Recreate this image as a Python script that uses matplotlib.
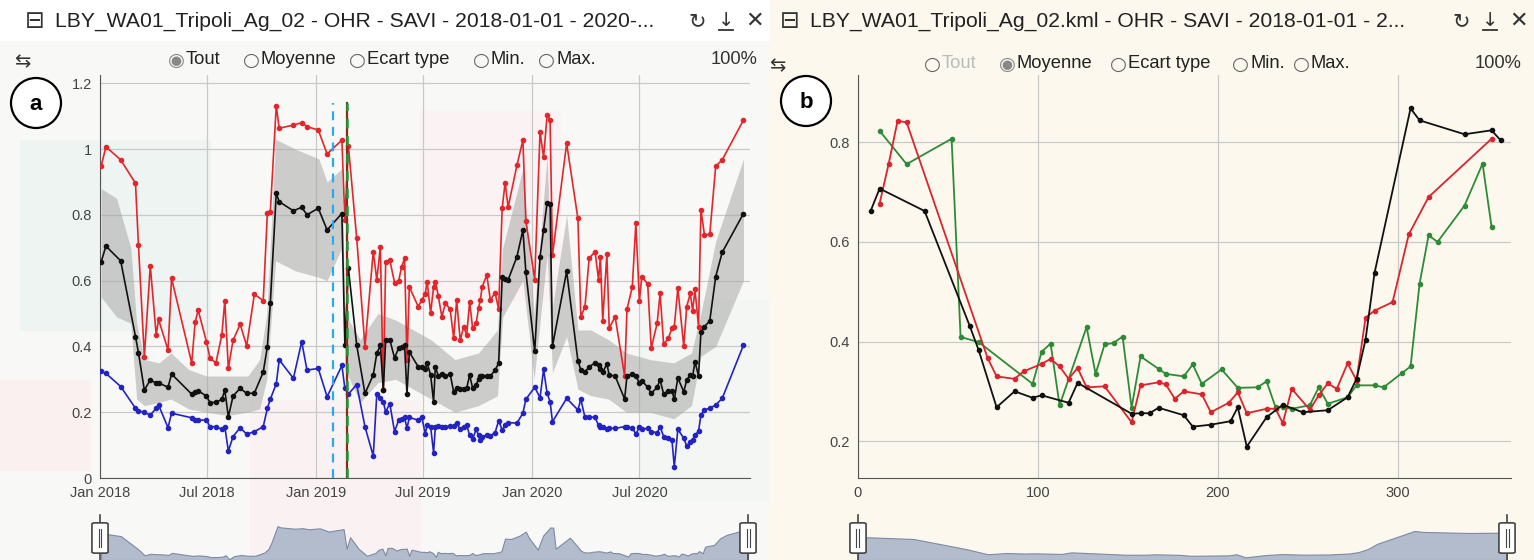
import numpy as np
import matplotlib
matplotlib.use("Agg")
import matplotlib.pyplot as plt
import matplotlib.dates as mdates
from matplotlib.patches import FancyBboxPatch, Ellipse, Rectangle
from matplotlib.ticker import FuncFormatter, FixedLocator

# ---- panel a : SAVI statistics over time (days since 2018-01-01) ----
days = [2, 10, 35, 60, 65, 75, 85, 95, 99, 115, 121, 155, 161, 166, 180, 186, 196, 206,
        211, 217, 225, 237, 248, 261, 276, 283, 288, 298, 303, 327, 341, 350, 369, 384,
        409, 414, 420, 434, 448, 462, 468, 474, 479, 483, 490, 498, 505, 510, 515, 519,
        523, 538, 544, 550, 553, 559, 564, 567, 572, 578, 584, 592, 598, 603, 609, 615,
        620, 625, 630, 636, 640, 643, 646, 654, 660, 668, 674, 680, 685, 690, 705, 715,
        720, 735, 744, 750, 756, 761, 765, 789, 808, 813, 820, 827, 837, 843, 846, 850,
        857, 861, 871, 887, 891, 900, 906, 912, 916, 926, 932, 942, 947, 953, 961, 967,
        971, 977, 987, 992, 998, 1002, 1006, 1012, 1016, 1022, 1031, 1041, 1052, 1088]

max_vals = [0.948, 1.007, 0.967, 0.896, 0.708, 0.369, 0.645, 0.435, 0.482, 0.389, 0.607,
            0.350, 0.475, 0.510, 0.414, 0.364, 0.350, 0.435, 0.539, 0.333, 0.419, 0.467,
            0.402, 0.559, 0.539, 0.806, 0.810, 1.131, 1.063, 1.073, 1.080, 1.068, 1.058,
            0.985, 1.027, 0.784, 1.009, 0.730, 0.399, 0.688, 0.602, 0.703, 0.267, 0.656,
            0.662, 0.594, 0.600, 0.642, 0.668, 0.359, 0.581, 0.521, 0.541, 0.560, 0.597,
            0.502, 0.580, 0.597, 0.553, 0.490, 0.531, 0.513, 0.425, 0.541, 0.419, 0.460,
            0.435, 0.536, 0.455, 0.470, 0.516, 0.540, 0.580, 0.617, 0.541, 0.563, 0.513,
            0.820, 0.898, 0.823, 0.951, 1.027, 0.782, 0.602, 1.052, 0.975, 1.103, 1.088,
            0.678, 1.017, 0.789, 0.490, 0.521, 0.668, 0.688, 0.602, 0.673, 0.478, 0.681,
            0.456, 0.490, 0.310, 0.513, 0.581, 0.774, 0.538, 0.612, 0.590, 0.395, 0.470,
            0.561, 0.406, 0.425, 0.455, 0.460, 0.577, 0.401, 0.521, 0.561, 0.509, 0.573,
            0.460, 0.815, 0.739, 0.741, 0.948, 0.967, 1.088]

mean_vals = [0.657, 0.705, 0.660, 0.430, 0.381, 0.267, 0.298, 0.288, 0.289, 0.276, 0.316,
             0.255, 0.260, 0.265, 0.249, 0.229, 0.230, 0.239, 0.267, 0.186, 0.249, 0.273,
             0.257, 0.258, 0.322, 0.399, 0.533, 0.865, 0.840, 0.812, 0.823, 0.800, 0.820,
             0.754, 0.804, 0.404, 0.637, 0.404, 0.257, 0.313, 0.379, 0.404, 0.267, 0.418,
             0.420, 0.365, 0.395, 0.399, 0.405, 0.255, 0.383, 0.338, 0.337, 0.330, 0.350,
             0.313, 0.232, 0.338, 0.310, 0.316, 0.310, 0.316, 0.262, 0.273, 0.270, 0.270,
             0.273, 0.313, 0.273, 0.284, 0.300, 0.310, 0.310, 0.310, 0.310, 0.328, 0.349,
             0.610, 0.605, 0.602, 0.673, 0.754, 0.627, 0.385, 0.673, 0.754, 0.837, 0.833,
             0.401, 0.628, 0.357, 0.328, 0.323, 0.338, 0.350, 0.342, 0.330, 0.322, 0.346,
             0.313, 0.310, 0.240, 0.310, 0.316, 0.310, 0.289, 0.296, 0.276, 0.257, 0.276,
             0.298, 0.255, 0.265, 0.265, 0.239, 0.304, 0.262, 0.298, 0.313, 0.310, 0.353,
             0.310, 0.443, 0.460, 0.478, 0.612, 0.686, 0.804]

min_vals = [0.325, 0.318, 0.278, 0.212, 0.204, 0.200, 0.191, 0.212, 0.222, 0.153, 0.197,
            0.183, 0.176, 0.176, 0.176, 0.156, 0.156, 0.148, 0.156, 0.082, 0.126, 0.153,
            0.133, 0.141, 0.156, 0.212, 0.240, 0.286, 0.359, 0.303, 0.414, 0.328, 0.333,
            0.247, 0.342, 0.273, 0.255, 0.284, 0.156, 0.067, 0.255, 0.242, 0.232, 0.201,
            0.226, 0.141, 0.176, 0.178, 0.184, 0.151, 0.184, 0.176, 0.186, 0.134, 0.160,
            0.156, 0.077, 0.156, 0.158, 0.156, 0.156, 0.158, 0.158, 0.168, 0.148, 0.155,
            0.160, 0.130, 0.118, 0.148, 0.130, 0.116, 0.125, 0.131, 0.128, 0.138, 0.174,
            0.146, 0.160, 0.168, 0.167, 0.197, 0.239, 0.276, 0.244, 0.330, 0.257, 0.232,
            0.171, 0.242, 0.207, 0.239, 0.184, 0.186, 0.184, 0.160, 0.156, 0.156, 0.148,
            0.151, 0.151, 0.156, 0.156, 0.151, 0.134, 0.154, 0.148, 0.151, 0.141, 0.138,
            0.156, 0.126, 0.121, 0.116, 0.034, 0.148, 0.121, 0.097, 0.110, 0.116, 0.130,
            0.143, 0.191, 0.207, 0.212, 0.222, 0.242, 0.404]

# standard deviation envelope (lower / upper edge)
band_days = [2, 28, 52, 62, 75, 100, 120, 150, 180, 215, 250, 270, 282, 297, 330, 370,
             384, 409, 414, 440, 470, 500, 530, 560, 600, 640, 672, 681, 715, 734, 756,
             765, 789, 808, 830, 860, 890, 930, 970, 1000, 1016, 1041, 1088]
band_hi = [0.88, 0.85, 0.70, 0.47, 0.36, 0.35, 0.38, 0.33, 0.31, 0.31, 0.31, 0.36, 0.50,
           1.03, 1.00, 0.97, 0.90, 0.94, 0.50, 0.42, 0.50, 0.48, 0.45, 0.42, 0.36, 0.38,
           0.45, 0.70, 0.94, 0.50, 0.98, 0.52, 0.80, 0.45, 0.45, 0.42, 0.38, 0.36, 0.35,
           0.38, 0.50, 0.72, 0.97]
band_lo = [0.55, 0.49, 0.47, 0.24, 0.22, 0.23, 0.24, 0.21, 0.20, 0.19, 0.20, 0.21, 0.30,
           0.66, 0.63, 0.61, 0.60, 0.70, 0.33, 0.23, 0.29, 0.30, 0.27, 0.24, 0.20, 0.22,
           0.25, 0.49, 0.60, 0.30, 0.68, 0.32, 0.43, 0.27, 0.25, 0.24, 0.20, 0.20, 0.18,
           0.22, 0.37, 0.40, 0.60]

event_days = [394, 417]   # dashed markers (blue, green)
tick_dates = ["2018-01-01", "2018-07-01", "2019-01-01", "2019-07-01", "2020-01-01",
              "2020-07-01"]

# ---- panel b : mean SAVI per day of year, one line per year ----
doy_2018 = [7, 12, 37, 62, 67, 77, 87, 97, 102, 117, 122, 152, 157, 162, 167, 181, 186,
            196, 207, 211, 216, 227, 236, 247, 261, 272, 277, 282, 287, 307, 312, 337,
            352, 357]
savi_2018 = [0.662, 0.707, 0.662, 0.432, 0.383, 0.268, 0.300, 0.287, 0.292, 0.277, 0.317,
             0.255, 0.256, 0.256, 0.267, 0.252, 0.229, 0.233, 0.240, 0.268, 0.189, 0.248,
             0.273, 0.258, 0.262, 0.288, 0.325, 0.404, 0.538, 0.868, 0.844, 0.816, 0.824,
             0.804]

doy_2019 = [12, 17, 22, 27, 72, 77, 87, 92, 102, 107, 112, 117, 122, 127, 137, 152, 157,
            167, 171, 176, 181, 191, 196, 206, 211, 216, 227, 232, 236, 241, 251, 256,
            261, 266, 272, 277, 282, 287, 297, 306, 317, 352]
savi_2019 = [0.677, 0.756, 0.843, 0.840, 0.367, 0.330, 0.325, 0.340, 0.355, 0.365, 0.350,
             0.325, 0.347, 0.308, 0.310, 0.238, 0.312, 0.318, 0.314, 0.285, 0.300, 0.294,
             0.258, 0.277, 0.298, 0.256, 0.265, 0.265, 0.236, 0.305, 0.263, 0.292, 0.316,
             0.305, 0.356, 0.322, 0.448, 0.462, 0.479, 0.615, 0.690, 0.807]

doy_2020 = [12, 27, 52, 57, 67, 97, 102, 107, 112, 127, 132, 137, 142, 147, 152, 157, 167,
            171, 181, 186, 191, 202, 211, 222, 227, 232, 236, 241, 251, 256, 261, 272,
            277, 287, 292, 302, 307, 312, 317, 322, 337, 347, 352]
savi_2020 = [0.823, 0.756, 0.807, 0.409, 0.399, 0.315, 0.379, 0.396, 0.272, 0.429, 0.335,
             0.394, 0.397, 0.410, 0.267, 0.370, 0.345, 0.335, 0.330, 0.354, 0.315, 0.344,
             0.307, 0.308, 0.320, 0.268, 0.268, 0.265, 0.272, 0.308, 0.275, 0.288, 0.312,
             0.312, 0.308, 0.336, 0.350, 0.516, 0.613, 0.600, 0.673, 0.757, 0.630]

W, H = 1534, 560
fig = plt.figure(figsize=(W / 100, H / 100), dpi=100)
plt.rcParams["font.family"] = ["Liberation Sans", "DejaVu Sans"]


def fx(x):
    return x / W


def fy(y):
    return 1 - y / H


def box(x0, y0, x1, y1):
    return [fx(x0), fy(y1), fx(x1) - fx(x0), fy(y0) - fy(y1)]


def rect(x0, y0, x1, y1, c, z):
    fig.patches.append(Rectangle((fx(x0), fy(y1)), fx(x1) - fx(x0), fy(y0) - fy(y1),
                                 transform=fig.transFigure, color=c, zorder=z))


# backgrounds
rect(0, 0, 769, 560, "#F8F9F6", -10)
rect(769, 0, W, 560, "#FCF8EE", -10)
rect(0, 0, 769, 40, "white", -9)
# faint imagery patches behind panel a
for x0, y0, x1, y1, c in [(20, 140, 210, 330, "#EEF4F2"), (250, 400, 420, 560, "#FAF2F2"),
                          (420, 110, 560, 300, "#FBF3F3"), (640, 300, 768, 500, "#F3F6F3"),
                          (0, 380, 90, 470, "#FAF0F0")]:
    rect(x0, y0, x1, y1, c, -8)

grid_kw = dict(color="#C9C9C9", linewidth=0.9)
tick_kw = dict(labelsize=10.5, labelcolor="#444444", length=0, pad=6)

# ---------------- panel a ----------------
base = np.datetime64("2018-01-01")
dates = base + np.array(days).astype("timedelta64[D]")
bdates = base + np.array(band_days).astype("timedelta64[D]")

ax = fig.add_axes(box(100, 75, 750, 478))
ax.set_facecolor("none")
ax.fill_between(bdates, band_lo, band_hi, color="#A8A8A8", alpha=0.55, lw=0, zorder=1)
line_kw = dict(lw=1.2, marker="o", ms=3, zorder=3)
ax.plot(dates, max_vals, color="#E3262B", **line_kw)
ax.plot(dates, mean_vals, color="#111111", **line_kw)
ax.plot(dates, min_vals, color="#2323C4", **line_kw)

ev = base + np.array(event_days).astype("timedelta64[D]")
ax.plot([ev[0], ev[0]], [0, 1.14], color="#2AA8F2", lw=1.6, ls=(0, (4, 3)), zorder=4)
ax.plot([ev[1], ev[1]], [0, 1.14], color="#8A2A18", lw=1.6, zorder=4)
ax.plot([ev[1], ev[1]], [0, 1.14], color="#1E9A3A", lw=1.8, ls=(0, (4, 3)), zorder=5)

ax.set_xlim(base, base + np.timedelta64(1099, "D"))
ax.set_ylim(0, 1.225)
ax.set_yticks([0, 0.2, 0.4, 0.6, 0.8, 1.0, 1.2])
ax.yaxis.set_major_formatter(FuncFormatter(lambda v, p: f"{v:g}"))
ax.xaxis.set_major_locator(FixedLocator(mdates.date2num(np.array(tick_dates,
                                                                 dtype="datetime64[D]"))))
ax.xaxis.set_major_formatter(mdates.DateFormatter("%b %Y"))
ax.grid(True, **grid_kw)
ax.set_axisbelow(True)
ax.tick_params(**tick_kw)
for s in ["top", "right"]:
    ax.spines[s].set_visible(False)
for s in ["left", "bottom"]:
    ax.spines[s].set_color("#555555")

# ---------------- panel b ----------------
bx = fig.add_axes(box(858, 75, 1511, 478))
bx.set_facecolor("none")
lk = dict(lw=1.3, marker="o", ms=3, zorder=3)
bx.plot(doy_2020, savi_2020, color="#2E8B35", **lk)
bx.plot(doy_2019, savi_2019, color="#D9252E", **lk)
bx.plot(doy_2018, savi_2018, color="#111111", **lk)
bx.set_xlim(0, 362.8)
bx.set_ylim(0.126, 0.935)
bx.set_xticks([0, 100, 200, 300])
bx.set_yticks([0.2, 0.4, 0.6, 0.8])
bx.yaxis.set_major_formatter(FuncFormatter(lambda v, p: f"{v:g}"))
bx.grid(True, **grid_kw)
bx.set_axisbelow(True)
bx.tick_params(**tick_kw)
for s in ["top", "right"]:
    bx.spines[s].set_visible(False)
for s in ["left", "bottom"]:
    bx.spines[s].set_color("#555555")

# ---------------- range selectors ----------------
for (x0, x1, xs, ys, xlim, ylim) in [
        (100, 748, dates, mean_vals, (base, base + np.timedelta64(1088, "D")), (0.17, 0.95)),
        (858, 1507, doy_2018, savi_2018, (7, 357), (0.12, 1.1))]:
    rx = fig.add_axes(box(x0, 522, x1, 560))
    rx.fill_between(xs, ylim[0], ys, color="#B3BCCD", edgecolor="#7D8AA3", lw=0.8)
    rx.set_xlim(*xlim)
    rx.set_ylim(*ylim)
    rx.axis("off")
    for hx in (x0, x1):
        fig.lines.append(plt.Line2D([fx(hx), fx(hx)], [fy(560), fy(515)],
                                    transform=fig.transFigure, color="#444444", lw=1.2))
        fig.patches.append(FancyBboxPatch((fx(hx - 5), fy(552)), fx(10), fy(524) - fy(552),
                                          boxstyle="round,pad=0.002",
                                          transform=fig.transFigure, fc="white",
                                          ec="#444444", lw=1.2, zorder=5))
        for dx in (-1.5, 1.5):
            fig.lines.append(plt.Line2D([fx(hx + dx), fx(hx + dx)], [fy(547), fy(529)],
                                        transform=fig.transFigure, color="#444444",
                                        lw=0.8, zorder=6))

# ---------------- headers ----------------
sym = ["DejaVu Sans"]


def header(x_icon, title, x_right, radio, x_pct, y_row):
    fig.text(fx(x_icon), fy(21), "⊟", family=sym, fontsize=17, va="center",
             ha="center", color="#333333")
    fig.text(fx(x_icon + 20), fy(21), title, fontsize=15.2, va="center",
             color="#222222")
    fig.text(fx(x_right), fy(21), "↻", family=sym, fontsize=15, va="center",
             ha="center", color="#333333")
    fig.text(fx(x_right + 29), fy(20), "↓", family=sym, fontsize=14, va="center",
             ha="center", color="#333333")
    fig.lines.append(plt.Line2D([fx(x_right + 22), fx(x_right + 36)], [fy(30), fy(30)],
                                transform=fig.transFigure, color="#333333", lw=1.3))
    fig.text(fx(x_right + 58), fy(21), "✕", family=sym, fontsize=16, va="center",
             ha="center", color="#333333")
    fig.text(fx(x_icon - 13), fy(y_row + 2), "⇆", family=sym, fontsize=14, va="center",
             ha="center", color="#333333")
    for x, label, on, col in radio:
        fig.text(fx(x), fy(y_row), "◉" if on else "○", family=sym, fontsize=14,
                 va="center", ha="center", color="#888888" if on else "#666666")
        fig.text(fx(x + 10), fy(y_row), label, fontsize=13.2, va="center", color=col)
    fig.text(fx(x_pct), fy(y_row), "100%", fontsize=13.2, va="center", ha="right",
             color="#333333")


header(35, "LBY_WA01_Tripoli_Ag_02 - OHR - SAVI - 2018-01-01 - 2020-...", 697,
       [(176, "Tout", True, "#222222"), (251, "Moyenne", False, "#222222"),
        (357, "Ecart type", False, "#222222"), (481, "Min.", False, "#222222"),
        (546, "Max.", False, "#222222")], 758, 60)
header(790, "LBY_WA01_Tripoli_Ag_02.kml - OHR - SAVI - 2018-01-01 - 2...", 1461,
       [(932, "Tout", False, "#BBBBBB"), (1007, "Moyenne", True, "#222222"),
        (1118, "Ecart type", False, "#222222"), (1240, "Min.", False, "#222222"),
        (1301, "Max.", False, "#222222")], 1522, 64)

# panel letters
for cx, cy, letter in [(36, 103, "a"), (806, 101, "b")]:
    fig.patches.append(Ellipse((fx(cx), fy(cy)), 50 / W, 50 / H,
                               transform=fig.transFigure, fc="white", ec="black",
                               lw=1.6, zorder=10))
    fig.text(fx(cx), fy(cy + 1), letter, fontsize=16, fontweight="bold", ha="center",
             va="center", zorder=11)

fig.savefig("out.png", dpi=100)
